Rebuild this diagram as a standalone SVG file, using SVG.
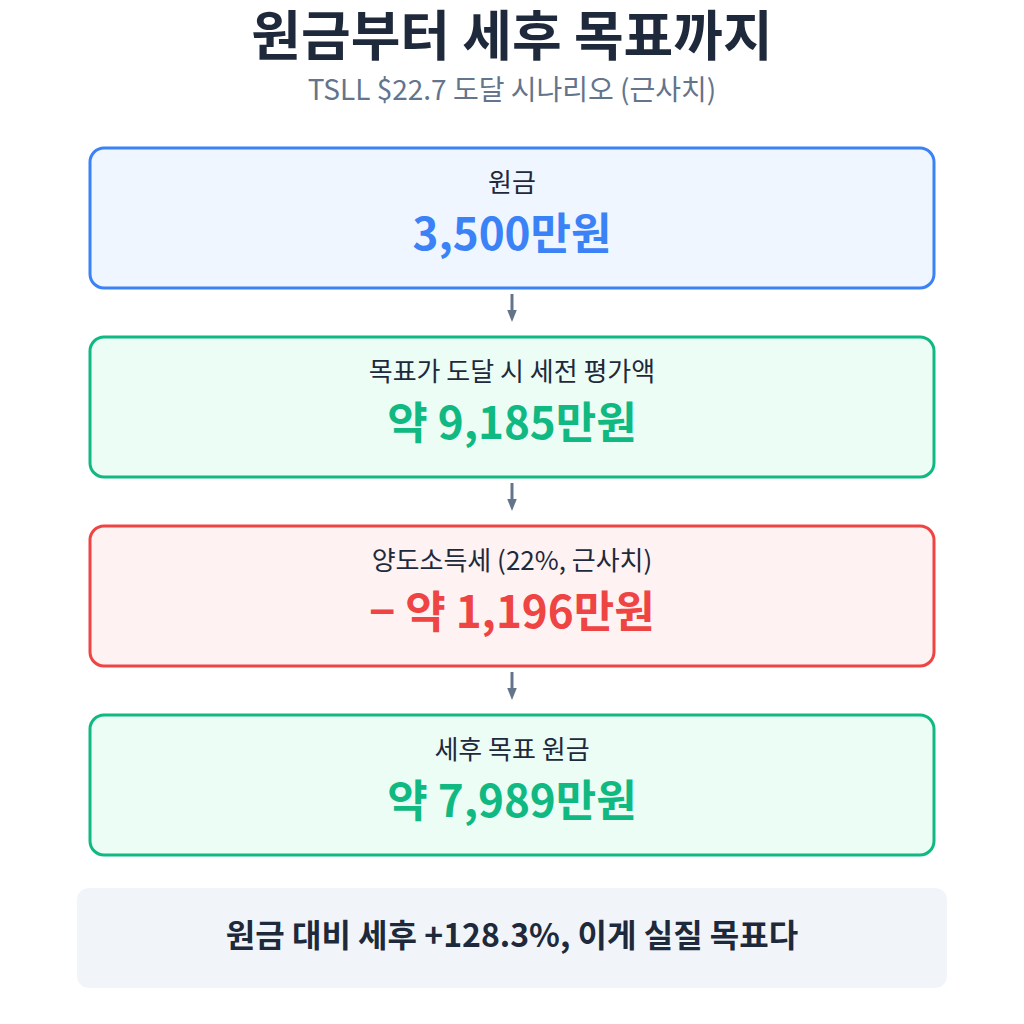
<svg xmlns="http://www.w3.org/2000/svg" width="1024" height="1024" viewBox="0 0 1024 1024">
<defs>
<marker id="ah" viewBox="0 0 10 10" refX="5" refY="5" markerWidth="4" markerHeight="4" orient="auto" markerUnits="strokeWidth">
<path d="M0,1 L10,5 L0,9 Z" fill="#64748b"/>
</marker>
<style>
text{font-family:"Noto Sans CJK KR","Noto Sans",sans-serif;text-anchor:middle}
.title{font-size:54px;font-weight:700;fill:#1e293b}
.sub{font-size:28px;fill:#64748b}
.lbl{font-size:26px;fill:#1e293b}
.val{font-size:44px;font-weight:700}
.box{stroke-width:3}
.conn{stroke:#64748b;stroke-width:3;fill:none}
</style>
</defs>
<rect width="1024" height="1024" fill="#ffffff"/>
<text class="title" x="512" y="56">원금부터 세후 목표까지</text>
<text class="sub" x="512" y="100">TSLL $22.7 도달 시나리오 (근사치)</text>
<g id="connectors">
<line class="conn" x1="512" y1="294" x2="512" y2="316" marker-end="url(#ah)"/>
<line class="conn" x1="512" y1="483" x2="512" y2="505" marker-end="url(#ah)"/>
<line class="conn" x1="512" y1="672" x2="512" y2="694" marker-end="url(#ah)"/>
</g>
<g id="principal">
<rect class="box" x="90" y="148" width="844" height="140" rx="14" fill="#eff6ff" stroke="#3b82f6"/>
<text class="lbl" x="512" y="192">원금</text>
<text class="val" x="512" y="250" fill="#3b82f6">3,500만원</text>
</g>
<g id="pretax">
<rect class="box" x="90" y="337" width="844" height="140" rx="14" fill="#ecfdf5" stroke="#10b981"/>
<text class="lbl" x="512" y="381">목표가 도달 시 세전 평가액</text>
<text class="val" x="512" y="439" fill="#10b981">약 9,185만원</text>
</g>
<g id="tax">
<rect class="box" x="90" y="526" width="844" height="140" rx="14" fill="#fef2f2" stroke="#ef4444"/>
<text class="lbl" x="512" y="570">양도소득세 (22%, 근사치)</text>
<text class="val" x="512" y="628" fill="#ef4444">− 약 1,196만원</text>
</g>
<g id="aftertax">
<rect class="box" x="90" y="715" width="844" height="140" rx="14" fill="#ecfdf5" stroke="#10b981"/>
<text class="lbl" x="512" y="759">세후 목표 원금</text>
<text class="val" x="512" y="817" fill="#10b981">약 7,989만원</text>
</g>
<g id="summary">
<rect x="77" y="888" width="870" height="100" rx="12" fill="#f1f5f9"/>
<text x="512" y="947" font-size="32" font-weight="700" fill="#1e293b">원금 대비 세후 +128.3%, 이게 실질 목표다</text>
</g>
</svg>
